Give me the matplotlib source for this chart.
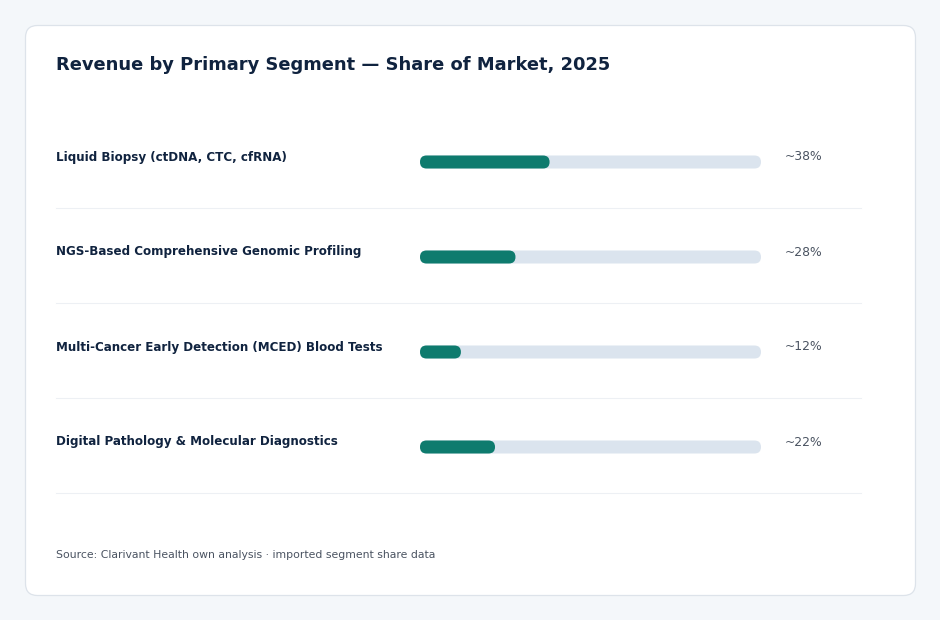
import matplotlib
matplotlib.use("Agg")
import matplotlib.pyplot as plt
from matplotlib.patches import FancyBboxPatch
from matplotlib.transforms import blended_transform_factory

categories = [
    "Liquid Biopsy (ctDNA, CTC, cfRNA)",
    "NGS-Based Comprehensive Genomic Profiling",
    "Multi-Cancer Early Detection (MCED) Blood Tests",
    "Digital Pathology & Molecular Diagnostics",
]
shares = [38, 28, 12, 22]
share_labels = ["~38%", "~28%", "~12%", "~22%"]
title = "Revenue by Primary Segment \u2014 Share of Market, 2025"
source = "Source: Clarivant Health own analysis \u00b7 imported segment share data"

W, H = 940, 620
BG = "#f4f7fa"
CARD = "#ffffff"
BORDER = "#dde3ea"
NAVY = "#10233f"
TEAL = "#0e7b6e"
TRACK = "#dbe4ee"
GREY = "#4a5361"
SEP = "#edf0f4"

plt.rcParams["font.family"] = ["DejaVu Sans"]

fig = plt.figure(figsize=(W / 100, H / 100), dpi=100, facecolor=BG)

# card
bgax = fig.add_axes([0, 0, 1, 1])
bgax.set_xlim(0, W)
bgax.set_ylim(H, 0)
bgax.axis("off")
card = FancyBboxPatch((25.5, 25.5), 890, 570, boxstyle="round,pad=0,rounding_size=12",
                      facecolor=CARD, edgecolor=BORDER, linewidth=0.9)
bgax.add_patch(card)

fig.text(56 / W, 1 - 65 / H, title, fontsize=12.9, fontweight="bold", color=NAVY,
         ha="left", va="center")
fig.text(56 / W, 1 - 555 / H, source, fontsize=7.85, color=GREY,
         ha="left", va="center")

# bar axes: x 0..100 maps to px 420..761; rows 95px tall starting at y=114.5
x0, x1 = 420, 761
ytop, row_h = 114.5, 95
n = len(categories)
ax = fig.add_axes([x0 / W, 1 - (ytop + n * row_h) / H, (x1 - x0) / W, n * row_h / H])
ax.set_xlim(0, 100)
ax.set_ylim(n - 0.5, -0.5)
ax.axis("off")
ax.patch.set_alpha(0)

px_x = (x1 - x0) / 100.0   # px per x unit
px_y = row_h               # px per y unit
bar_h = 13 / px_y
r = 6.5 / px_x
asp = px_x / px_y

lab_tr = blended_transform_factory(fig.transFigure, ax.transData)
for i, (cat, v, lab) in enumerate(zip(categories, shares, share_labels)):
    ax.add_patch(FancyBboxPatch((0, i - bar_h / 2), 100, bar_h,
                                boxstyle=f"round,pad=0,rounding_size={r}",
                                mutation_aspect=asp, facecolor=TRACK, edgecolor="none"))
    ax.add_patch(FancyBboxPatch((0, i - bar_h / 2), v, bar_h,
                                boxstyle=f"round,pad=0,rounding_size={r}",
                                mutation_aspect=asp, facecolor=TEAL, edgecolor="none"))
    ax.text(56 / W, i - 5 / px_y, cat, transform=lab_tr, fontsize=8.6, fontweight="bold",
            color=NAVY, ha="left", va="center", clip_on=False)
    ax.text(785 / W, i - 5 / px_y, lab, transform=lab_tr, fontsize=8.9,
            color=GREY, ha="left", va="center", clip_on=False)
    ax.plot([56 / W, 861 / W], [i + 0.5 - 1.5 / px_y] * 2, transform=lab_tr,
            color=SEP, lw=0.8, clip_on=False)

fig.savefig("out.png", dpi=100, facecolor=BG)
